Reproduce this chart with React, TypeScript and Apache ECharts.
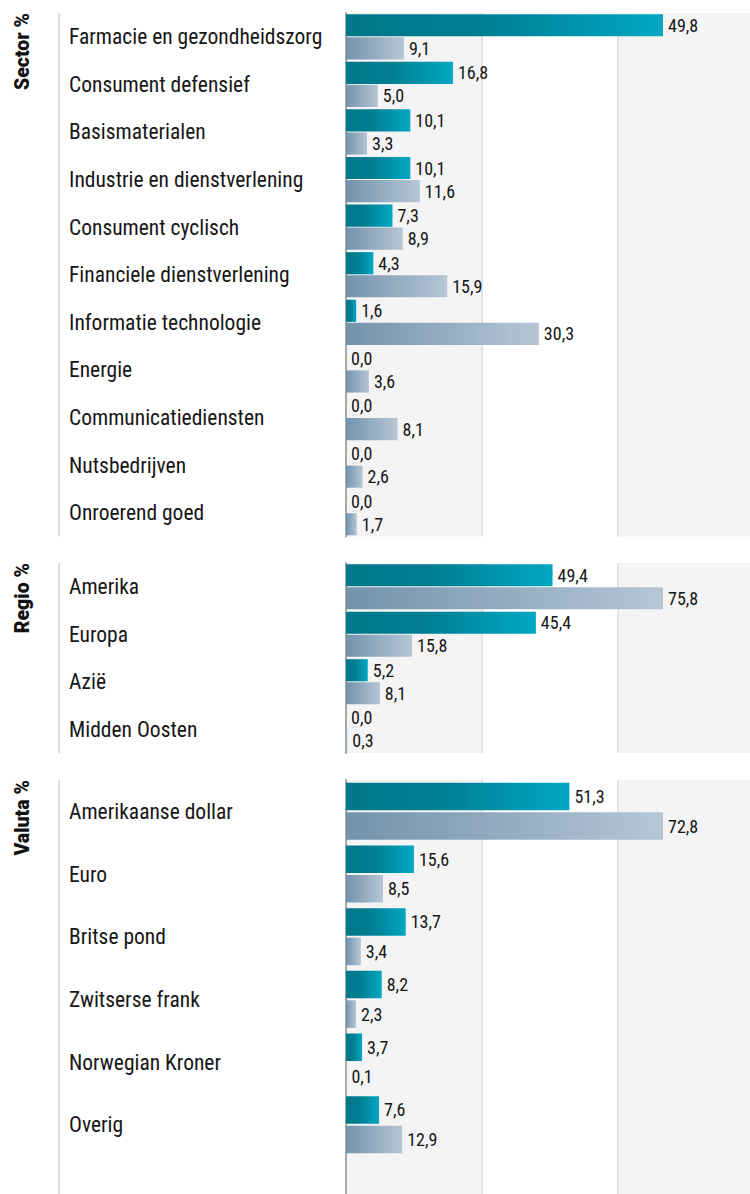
import React, { useEffect, useRef } from "react";
import * as echarts from "echarts";

const sectorCats = [
  "Farmacie en gezondheidszorg",
  "Consument defensief",
  "Basismaterialen",
  "Industrie en dienstverlening",
  "Consument cyclisch",
  "Financiele dienstverlening",
  "Informatie technologie",
  "Energie",
  "Communicatiediensten",
  "Nutsbedrijven",
  "Onroerend goed",
];
const sectorFund = [49.8, 16.8, 10.1, 10.1, 7.3, 4.3, 1.6, 0.0, 0.0, 0.0, 0.0];
const sectorBench = [9.1, 5.0, 3.3, 11.6, 8.9, 15.9, 30.3, 3.6, 8.1, 2.6, 1.7];

const regioCats = ["Amerika", "Europa", "Azië", "Midden Oosten"];
const regioFund = [49.4, 45.4, 5.2, 0.0];
const regioBench = [75.8, 15.8, 8.1, 0.3];

const valutaCats = [
  "Amerikaanse dollar",
  "Euro",
  "Britse pond",
  "Zwitserse frank",
  "Norwegian Kroner",
  "Overig",
];
const valutaFund = [51.3, 15.6, 13.7, 8.2, 3.7, 7.6];
const valutaBench = [72.8, 8.5, 3.4, 2.3, 0.1, 12.9];

const panelTitles = ["Sector %", "Regio %", "Valuta %"];

const CONDENSED = "'Roboto Condensed','Liberation Sans Narrow','DejaVu Sans Condensed','Arial Narrow',Roboto,sans-serif";

export default function App() {
  const ref = useRef<HTMLDivElement>(null);

  useEffect(() => {
    document.body.style.margin = "0";
    document.body.style.overflow = "hidden";
    if (!ref.current) return;
    const chart = echarts.init(ref.current, null, { renderer: "svg" });

    const left = 346;
    const plotW = 408;
    const ratio = 408 / 317;

    const panels = [
      { cats: sectorCats, a: sectorFund, b: sectorBench, top: 13, height: 523.5, gap: "5%", barGap: "4%" },
      { cats: regioCats, a: regioFund, b: regioBench, top: 563, height: 190, gap: "5%", barGap: "4%" },
      { cats: valutaCats, a: valutaFund, b: valutaBench, top: 780, height: 376, gap: "9%", barGap: "7%" },
    ];

    const fundColor = new echarts.graphic.LinearGradient(0, 0, 1, 0, [
      { offset: 0, color: "#00778a" },
      { offset: 0.4, color: "#007d91" },
      { offset: 1, color: "#00a7c3" },
    ]);
    const benchColor = new echarts.graphic.LinearGradient(0, 0, 1, 0, [
      { offset: 0, color: "#7393ac" },
      { offset: 1, color: "#b6c6d5" },
    ]);

    const fmt = (p: any) => Number(p.value).toFixed(1).replace(".", ",");

    const grids: any[] = [];
    const xAxes: any[] = [];
    const yAxes: any[] = [];
    const series: any[] = [];

    const makeX = (gi: number, max: number) => ({
      type: "value",
      gridIndex: gi,
      min: 0,
      max: max,
      interval: max / 3,
      axisLabel: { show: false },
      axisLine: { show: false },
      axisTick: { show: false },
      splitLine: { show: true, lineStyle: { color: "#e3e3e3", width: 2 } },
      splitArea: { show: true, areaStyle: { color: ["#f4f4f4", "#ffffff"] } },
    });

    panels.forEach((p, i) => {
      const maxVal = Math.max(...p.a, ...p.b);
      const axMax = maxVal * ratio;
      grids.push({ left, top: p.top, width: plotW, height: p.height, containLabel: false });
      xAxes.push(makeX(i, axMax));
      yAxes.push({
        type: "category",
        gridIndex: i,
        data: p.cats,
        inverse: true,
        axisTick: { show: false },
        axisLine: { show: true, lineStyle: { color: "#a8a8a8", width: 2 } },
        axisLabel: {
          margin: 277,
          align: "left",
          fontFamily: CONDENSED,
          fontSize: 21.5,
          color: "#161616",
        },
      });
      const label = {
        show: true,
        position: "right",
        distance: 5,
        formatter: fmt,
        fontFamily: CONDENSED,
        fontSize: 18,
        color: "#161616",
      };
      series.push({
        type: "bar",
        xAxisIndex: i,
        yAxisIndex: i,
        data: p.a,
        barCategoryGap: p.gap,
        barGap: p.barGap,
        itemStyle: { color: fundColor },
        label,
      });
      series.push({
        type: "bar",
        xAxisIndex: i,
        yAxisIndex: i,
        data: p.b,
        barCategoryGap: p.gap,
        barGap: p.barGap,
        itemStyle: { color: benchColor },
        label,
      });
    });

    // filler area below the last panel
    grids.push({ left, top: 1156, width: plotW, height: 40, containLabel: false });
    xAxes.push(makeX(3, Math.max(...valutaFund, ...valutaBench) * ratio));
    yAxes.push({
      type: "category",
      gridIndex: 3,
      data: [""],
      axisTick: { show: false },
      axisLabel: { show: false },
      axisLine: { show: true, lineStyle: { color: "#a8a8a8", width: 2 } },
    });
    series.push({ type: "bar", xAxisIndex: 3, yAxisIndex: 3, data: [null], silent: true });

    const lineSpans = [
      [13, 536.5],
      [563, 753],
      [780, 1194],
    ];
    const graphic: any[] = [];
    lineSpans.forEach((s, i) => {
      graphic.push({
        type: "line",
        shape: { x1: 59, y1: s[0], x2: 59, y2: s[1] },
        style: { stroke: "#d2d2d2", lineWidth: 1.5 },
      });
      graphic.push({
        type: "text",
        x: 22,
        y: s[0],
        rotation: Math.PI / 2,
        style: {
          text: panelTitles[i],
          align: "right",
          verticalAlign: "middle",
          fontFamily: "Roboto, sans-serif",
          fontWeight: 900,
          fontSize: 19.5,
          fill: "#111",
        },
      });
    });

    chart.setOption({
      animation: false,
      grid: grids,
      xAxis: xAxes,
      yAxis: yAxes,
      series,
      graphic,
    });

    return () => chart.dispose();
  }, []);

  return <div ref={ref} style={{ width: 754, height: 1194 }} />;
}
